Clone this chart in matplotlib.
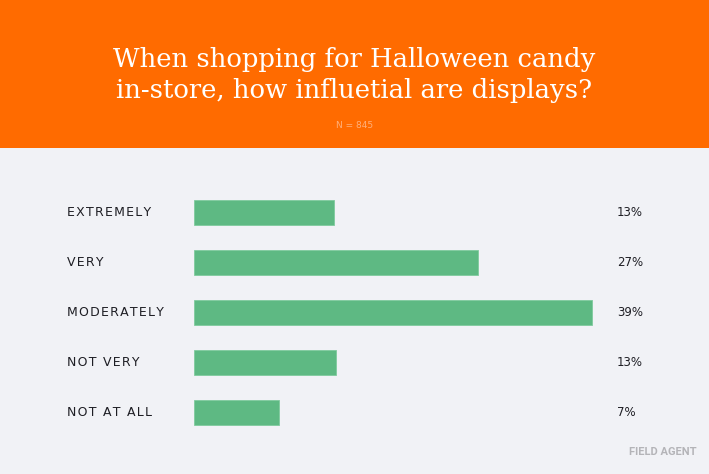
import matplotlib.pyplot as plt
from matplotlib.patches import Rectangle
from matplotlib.transforms import blended_transform_factory

categories = ["EXTREMELY", "VERY", "MODERATELY", "NOT VERY", "NOT AT ALL"]
# bar lengths, printed labels as shown
bar_values = [13.7, 27.8, 39.0, 13.9, 8.3]
pct_labels = [13, 27, 39, 13, 7]

title_lines = ["When shopping for Halloween candy", "in-store, how influetial are displays?"]
subtitle = "N = 845"

W, H = 709, 474
ORANGE = "#FF6B00"
BG = "#F1F2F6"
GREEN = "#5EB983"
TEXT = "#1E1E24"


def spaced(s, sep="\u200a"):
    return sep.join(s)


fig = plt.figure(figsize=(W / 100, H / 100), dpi=100, facecolor=BG)
fig.patches.append(Rectangle((0, 1 - 148 / H), 1, 148 / H, transform=fig.transFigure,
                             facecolor=ORANGE, edgecolor="none", zorder=0))

for line, base in zip(title_lines, [67, 98]):
    fig.text(0.5, 1 - base / H, line, color="white", family="DejaVu Serif",
             fontsize=18.6, ha="center", va="baseline")
fig.text(0.5, 1 - 125 / H, subtitle, color="#FFB07A", fontsize=6.5, ha="center", va="center")

ax = fig.add_axes([194 / W, 1 - 437 / H, 408 / W, 250 / H])
ax.set_facecolor("none")
y = range(len(categories))
ax.barh(y, bar_values, height=0.5, color=GREEN, edgecolor="#7FCB9E", linewidth=0.6)
ax.set_xlim(0, 40)
ax.set_ylim(len(categories) - 0.5, -0.5)
ax.axis("off")

tr = blended_transform_factory(fig.transFigure, ax.transData)
for i, (cat, p) in enumerate(zip(categories, pct_labels)):
    ax.text(67 / W, i, spaced(cat), transform=tr, fontsize=9, color=TEXT,
            fontweight="medium", ha="left", va="center")
    ax.text(617 / W, i, f"{p}%", transform=tr, fontsize=8.5, color=TEXT,
            ha="left", va="center")

fig.text(629 / W, 1 - 452 / H, "FIELD AGENT", color="#B4B4B8", fontsize=8, fontweight="bold",
         family="Roboto", ha="left", va="center")

fig.savefig("out.png", dpi=100, facecolor=BG)
